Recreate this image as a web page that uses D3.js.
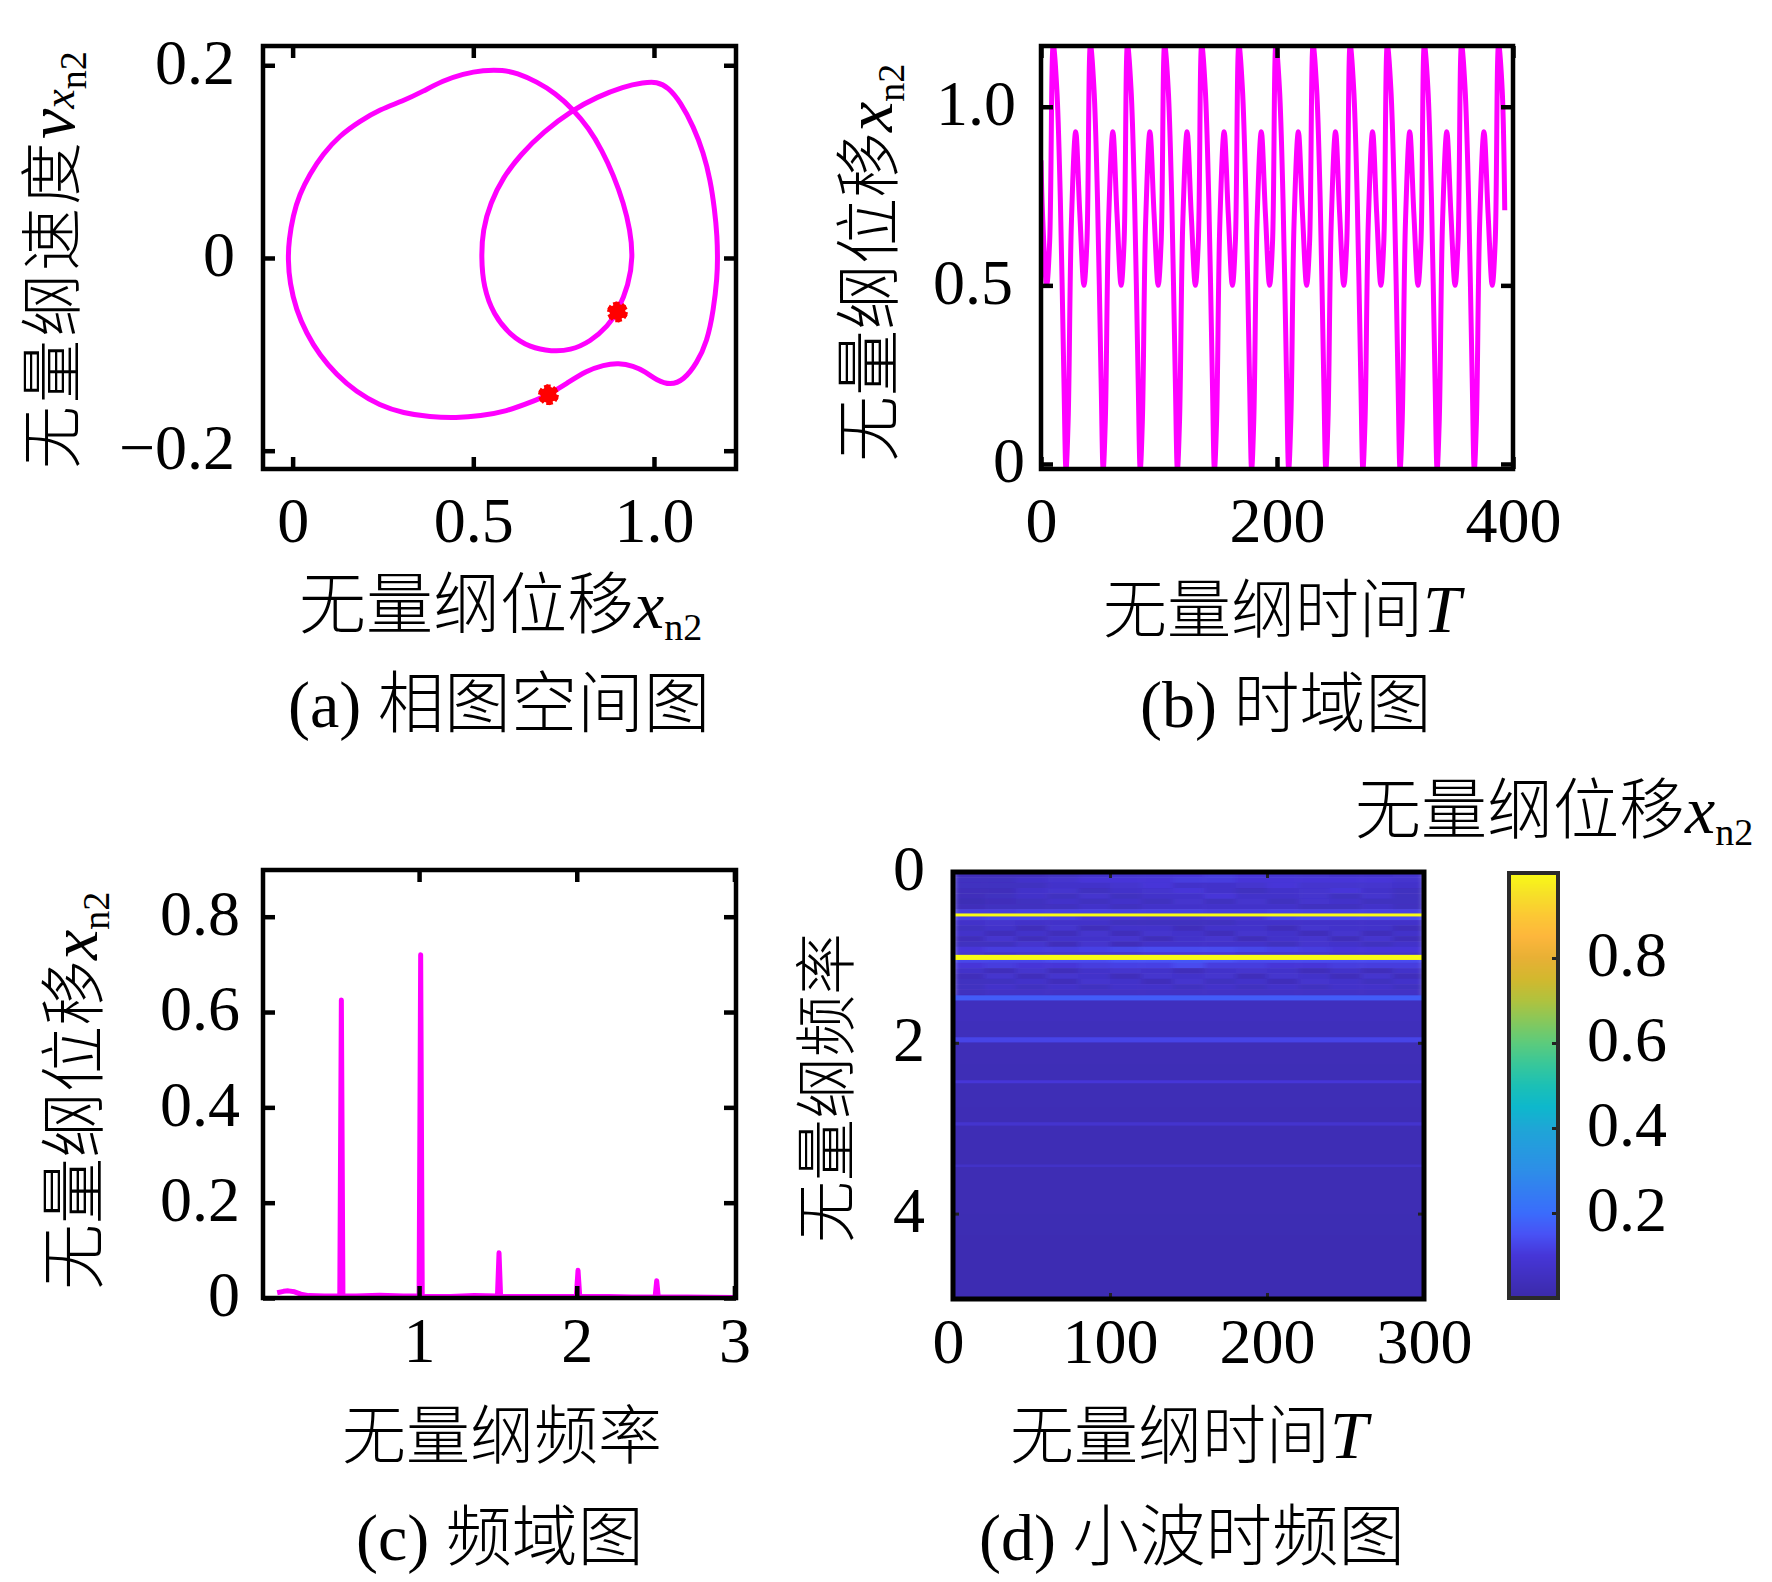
<!DOCTYPE html>
<html lang="en">
<head>
  <meta charset="UTF-8" />
  <title>Phase, time, frequency and wavelet charts</title>
  <script src="https://d3js.org/d3.v7.min.js"></script>
  <style>
    html, body { margin: 0; padding: 0; background: white; }
    svg { display: block; }
    text { fill: black; }
    .tick-label { font-family: "Liberation Serif", serif; font-size: 64px; }
    .label { font-family: "Noto Sans CJK SC", serif; font-size: 66px; font-weight: 300; }
    .latin { font-family: "Liberation Serif", serif; }
    .axis path { display: none; }
    .axis line { stroke: black; stroke-width: 4.5px; }
    .frame { fill: none; stroke: black; stroke-width: 4.5px; }
    .trace { fill: none; stroke: #ff00ff; stroke-linejoin: round; }
  </style>
</head>
<body>
  <svg id="chart" width="1772" height="1582"></svg>

  <script>
    // (a) phase portrait, closed loop
    const phaseX = [0.708, 0.657, 0.593, 0.519, 0.453, 0.380, 0.306, 0.241, 0.176, 0.121, 0.075, 0.038, 0.010, -0.008, -0.013, -0.010, 0.001, 0.019, 0.047, 0.084, 0.130, 0.186, 0.241, 0.306, 0.361, 0.416, 0.472, 0.527, 0.583, 0.620, 0.676, 0.727, 0.777, 0.819, 0.856, 0.888, 0.916, 0.934, 0.942, 0.930, 0.899, 0.874, 0.824, 0.768, 0.717, 0.657, 0.602, 0.556, 0.528, 0.522, 0.526, 0.547, 0.583, 0.630, 0.694, 0.777, 0.842, 0.916, 0.971, 1.008, 1.040, 1.073, 1.110, 1.137, 1.156, 1.168, 1.175, 1.176, 1.175, 1.165, 1.147, 1.119, 1.082, 1.045, 1.008, 0.976, 0.943, 0.902, 0.860, 0.814, 0.759];
    const phaseV = [-0.142, -0.150, -0.159, -0.164, -0.166, -0.165, -0.161, -0.153, -0.139, -0.121, -0.101, -0.078, -0.054, -0.026, -0.001, 0.019, 0.044, 0.066, 0.087, 0.108, 0.127, 0.142, 0.154, 0.163, 0.173, 0.184, 0.191, 0.195, 0.195, 0.192, 0.183, 0.171, 0.154, 0.135, 0.112, 0.086, 0.057, 0.029, 0.001, -0.028, -0.056, -0.070, -0.087, -0.096, -0.097, -0.093, -0.080, -0.059, -0.030, 0.001, 0.029, 0.057, 0.084, 0.107, 0.131, 0.154, 0.167, 0.178, 0.182, 0.183, 0.177, 0.162, 0.136, 0.109, 0.081, 0.050, 0.022, -0.002, -0.019, -0.054, -0.087, -0.109, -0.127, -0.132, -0.127, -0.118, -0.112, -0.109, -0.111, -0.117, -0.130];
    const poincareX = [0.708, 0.899];
    const poincareV = [-0.142, -0.056];

    // (b) time series
    const timeT = [
      0, 1.3, 4.8, 7.3,
      10.4, 13.4, 16.4, 19.4, 21.2, 23, 25.8, 29.4, 32.9, 36.4, 38.9,
      41.9, 44.9, 47.9, 50.9, 52.7, 54.5, 57.3, 60.9, 64.4, 67.9, 70.4,
      73.3, 76.3, 79.3, 82.3, 84.1, 85.9, 88.7, 92.3, 95.8, 99.3, 101.8,
      104.8, 107.8, 110.8, 113.8, 115.6, 117.4, 120.2, 123.8, 127.3, 130.8, 133.3,
      136.2, 139.2, 142.2, 145.2, 147, 148.8, 151.6, 155.2, 158.7, 162.2, 164.7,
      167.7, 170.7, 173.7, 176.7, 178.5, 180.3, 183.1, 186.7, 190.2, 193.7, 196.2,
      199.1, 202.1, 205.1, 208.1, 209.9, 211.7, 214.5, 218.1, 221.6, 225.1, 227.6,
      230.6, 233.6, 236.6, 239.6, 241.4, 243.2, 246, 249.6, 253.1, 256.6, 259.1,
      262, 265, 268, 271, 272.8, 274.6, 277.4, 281, 284.5, 288, 290.5,
      293.5, 296.5, 299.5, 302.5, 304.3, 306.1, 308.9, 312.5, 316, 319.5, 322,
      324.9, 327.9, 330.9, 333.9, 335.7, 337.5, 340.3, 343.9, 347.4, 350.9, 353.4,
      356.4, 359.4, 362.4, 365.4, 367.2, 369, 371.8, 375.4, 378.9, 382.4, 384.9,
      387.8, 390.8, 393
    ];
    const timeX = [
      0.85, 0.70, 0.50, 0.62,
      1.174, 1.05, 0.74, 0.24, -0.016, 0.12, 0.68, 0.93, 0.70, 0.50, 0.62,
      1.174, 1.05, 0.74, 0.24, -0.016, 0.12, 0.68, 0.93, 0.70, 0.50, 0.62,
      1.174, 1.05, 0.74, 0.24, -0.016, 0.12, 0.68, 0.93, 0.70, 0.50, 0.62,
      1.174, 1.05, 0.74, 0.24, -0.016, 0.12, 0.68, 0.93, 0.70, 0.50, 0.62,
      1.174, 1.05, 0.74, 0.24, -0.016, 0.12, 0.68, 0.93, 0.70, 0.50, 0.62,
      1.174, 1.05, 0.74, 0.24, -0.016, 0.12, 0.68, 0.93, 0.70, 0.50, 0.62,
      1.174, 1.05, 0.74, 0.24, -0.016, 0.12, 0.68, 0.93, 0.70, 0.50, 0.62,
      1.174, 1.05, 0.74, 0.24, -0.016, 0.12, 0.68, 0.93, 0.70, 0.50, 0.62,
      1.174, 1.05, 0.74, 0.24, -0.016, 0.12, 0.68, 0.93, 0.70, 0.50, 0.62,
      1.174, 1.05, 0.74, 0.24, -0.016, 0.12, 0.68, 0.93, 0.70, 0.50, 0.62,
      1.174, 1.05, 0.74, 0.24, -0.016, 0.12, 0.68, 0.93, 0.70, 0.50, 0.62,
      1.174, 1.05, 0.74, 0.24, -0.016, 0.12, 0.68, 0.93, 0.70, 0.50, 0.62,
      1.174, 1.05, 0.71
    ];

    // (c) spectrum
    const specF = [0.10, 0.14, 0.17, 0.21, 0.25, 0.30, 0.40, 0.49, 0.497, 0.507, 0.517, 0.60, 0.75, 0.90, 1.000, 1.010, 1.020, 1.20, 1.35, 1.497, 1.507, 1.517, 1.70, 1.85, 1.997, 2.008, 2.019, 2.20, 2.35, 2.497, 2.507, 2.517, 2.70, 3.0];
    const specA = [0.011, 0.014, 0.015, 0.013, 0.008, 0.005, 0.004, 0.004, 0.004, 0.625, 0.004, 0.004, 0.006, 0.004, 0.004, 0.72, 0.003, 0.003, 0.005, 0.004, 0.095, 0.003, 0.003, 0.003, 0.003, 0.058, 0.003, 0.003, 0.002, 0.002, 0.036, 0.002, 0.002, 0.001];

    // (d) wavelet map, percent of full scale. rows 0.0625 apart from 0 to 1.5, 15 columns of 20 T
    const heatRows = [
      [4, 4, 4, 5, 7, 8, 9, 10, 11, 10, 9, 8, 7, 7, 8],
      [5, 5, 7, 8, 10, 10, 10, 11, 11, 10, 10, 10, 10, 10, 8],
      [5, 5, 5, 7, 7, 8, 10, 7, 7, 8, 10, 8, 8, 8, 7],
      [4, 4, 7, 8, 5, 7, 8, 10, 7, 5, 7, 8, 10, 7, 5],
      [4, 5, 7, 5, 8, 5, 7, 7, 10, 7, 7, 8, 5, 8, 5],
      [3, 4, 5, 7, 5, 7, 5, 8, 5, 8, 5, 8, 7, 5, 5],
      [4, 5, 5, 5, 7, 5, 7, 7, 7, 7, 7, 5, 5, 7, 5],
      [11, 11, 12, 12, 12, 12, 12, 12, 11, 11, 12, 12, 12, 12, 12],
      [12, 13, 13, 12, 10, 10, 8, 8, 10, 10, 13, 14, 14, 14, 14],
      [7, 8, 7, 7, 7, 5, 5, 5, 5, 7, 7, 7, 7, 7, 7],
      [5, 7, 4, 8, 4, 7, 7, 4, 7, 7, 4, 8, 7, 7, 4],
      [7, 4, 7, 4, 8, 4, 8, 7, 4, 8, 7, 4, 8, 4, 7],
      [4, 8, 4, 7, 7, 8, 4, 7, 8, 4, 7, 8, 4, 8, 4],
      [5, 5, 8, 4, 8, 4, 7, 7, 7, 7, 5, 8, 7, 5, 7],
      [10, 11, 11, 11, 12, 13, 14, 14, 14, 13, 12, 11, 10, 10, 10],
      [8, 7, 8, 8, 8, 8, 10, 10, 10, 8, 8, 8, 7, 7, 7],
      [13, 13, 13, 14, 14, 15, 15, 16, 15, 14, 14, 14, 14, 14, 14],
      [10, 11, 10, 10, 11, 12, 12, 14, 11, 11, 10, 10, 11, 11, 11],
      [7, 4, 8, 4, 7, 8, 7, 4, 7, 8, 7, 4, 7, 4, 7],
      [4, 8, 4, 8, 7, 4, 8, 7, 8, 4, 8, 7, 4, 8, 4],
      [5, 5, 7, 4, 8, 7, 4, 8, 5, 7, 4, 8, 7, 5, 7],
      [5, 7, 5, 7, 5, 7, 7, 5, 7, 5, 7, 5, 7, 7, 5],
      [5, 6, 6, 6, 6, 6, 6, 6, 6, 6, 6, 6, 6, 6, 6],
      [4, 5, 6, 5, 6, 5, 6, 5, 6, 5, 6, 5, 6, 5, 5]
    ];
    const heatColumns = [0, 20, 40, 60, 80, 100, 120, 140, 160, 180, 200, 220, 240, 260, 280];
    const lowFreq = [1.5, 1.75, 2, 2.25, 2.5, 2.75, 3, 3.25, 3.5, 3.75, 4, 4.25, 4.5, 4.75];
    const lowLevel = [0.045, 0.04, 0.032, 0.03, 0.03, 0.028, 0.028, 0.026, 0.026, 0.024, 0.022, 0.02, 0.02, 0.02];
    const bandFreq = [0.503, 1.0, 1.474, 1.965, 2.456, 2.95, 3.44];
    const bandWidth = [0.035, 0.06, 0.06, 0.06, 0.035, 0.04, 0.03];
    const bandLevel = [1, 1, 0.17, 0.125, 0.10, 0.08, 0.065];

    const parulaStops = [0, 0.1, 0.15, 0.2, 0.3, 0.4, 0.45, 0.5, 0.55, 0.6, 0.65, 0.7, 0.75, 0.8, 0.85, 0.9, 0.95, 1];
    const parulaColors = ["#3b2aa8", "#4636d8", "#4852f5", "#3a6cfc", "#2d8ee8", "#1ea6d6", "#0db8cc", "#1cc0b5", "#38c79a", "#5ccb7c", "#85c85c", "#b0c23e", "#d2b82e", "#e8b035", "#fdb63c", "#fcc834", "#f6e028", "#f9fb15"];

    const colorbarTicks = [0.2, 0.4, 0.6, 0.8];

    const svg = d3.select("#chart");
    const parula = d3.scaleLinear().domain(parulaStops).range(parulaColors);

    function panelAxes(box, x, y, xTicks, yTicks, xFmt, yFmt, xPad, yPad, tickLen) {
      const g = svg.append("g");
      const len = -(tickLen || 12);
      const add = (axis, tx, ty) => g.append("g").attr("class", "axis")
        .attr("transform", `translate(${tx},${ty})`).call(axis);
      const bottom = add(d3.axisBottom(x).tickValues(xTicks).tickSize(len).tickPadding(xPad).tickFormat(xFmt), 0, box.bottom);
      const left = add(d3.axisLeft(y).tickValues(yTicks).tickSize(len).tickPadding(yPad).tickFormat(yFmt), box.left, 0);
      add(d3.axisTop(x).tickValues(xTicks).tickSize(len).tickFormat(""), 0, box.top);
      add(d3.axisRight(y).tickValues(yTicks).tickSize(len).tickFormat(""), box.right, 0);
      g.selectAll(".axis text").attr("class", "tick-label");
      bottom.selectAll("text").attr("dy", "0.71em");
      left.selectAll("text").attr("dy", "0.28em");
      g.append("rect").attr("class", "frame")
        .attr("x", box.left).attr("y", box.top)
        .attr("width", box.right - box.left).attr("height", box.bottom - box.top);
      return { g, bottom, left };
    }

    // mixed CJK / latin label, parts are [text, kind]
    function label(x, y, parts, rotate, size) {
      const t = svg.append("text").attr("class", "label")
        .attr("transform", `translate(${x},${y})` + (rotate ? " rotate(-90)" : ""));
      if (size) t.style("font-size", size + "px");
      parts.forEach(([s, kind]) => {
        const span = t.append("tspan").text(s);
        if (kind === "i") span.attr("class", "latin").style("font-style", "italic").style("font-size", "68px");
        if (kind === "r") span.attr("class", "latin").style("font-size", "66px");
        if (kind === "subi") span.attr("class", "latin").style("font-style", "italic").style("font-size", "44px");
        if (kind === "sub") span.attr("class", "latin").attr("dy", 12).style("font-size", "38px");
      });
      return t;
    }
    const xn2 = [["x", "i"], ["n2", "sub"]];

    function clipFor(id, box) {
      svg.append("clipPath").attr("id", id).append("rect")
        .attr("x", box.left).attr("y", box.top)
        .attr("width", box.right - box.left).attr("height", box.bottom - box.top);
    }

    // ---------- (a)
    const boxA = { left: 263, right: 736, top: 46, bottom: 469 };
    const xA = d3.scaleLinear().domain([-0.082, 1.227]).range([boxA.left, boxA.right]);
    const yA = d3.scaleLinear().domain([-0.219, 0.22]).range([boxA.bottom, boxA.top]);
    const loop = d3.line().x(i => xA(phaseX[i])).y(i => yA(phaseV[i])).curve(d3.curveBasisClosed);
    svg.append("path").attr("class", "trace").attr("stroke-width", 5)
      .attr("d", loop(d3.range(phaseX.length)));
    const star = d3.symbol().type(d3.symbolAsterisk).size(300)();
    poincareX.forEach((px, i) => {
      [0, 45].forEach(a => {
        svg.append("path").attr("d", star)
          .attr("transform", `translate(${xA(px)},${yA(poincareV[i])}) rotate(${a})`)
          .attr("fill", "none").attr("stroke", "#ff0000").attr("stroke-width", 4.5);
      });
      svg.append("circle").attr("cx", xA(px)).attr("cy", yA(poincareV[i])).attr("r", 8).attr("fill", "#ff0000");
    });
    panelAxes(boxA, xA, yA, [0, 0.5, 1], [-0.2, 0, 0.2],
      d => d === 0 ? "0" : d3.format(".1f")(d),
      d => d === 0 ? "0" : d3.format(".1f")(d).replace("-", "\u2212"), 28, 28);
    label(74, 469, [["无量纲速度", ""], ["v", "i"], ["x", "subi"], ["n2", "sub"]], true, 63)
      .selectAll("tspan").filter((d, i) => i === 0).style("letter-spacing", "3px");
    label(299, 628, [["无量纲位移", ""], ...xn2], false, 67);
    label(288, 727, [["(a) ", "r"], ["相图空间图", ""]], false, 66.5);

    // ---------- (b)
    const boxB = { left: 1041, right: 1513, top: 46, bottom: 469 };
    const xB = d3.scaleLinear().domain([0, 400]).range([boxB.left, boxB.right]);
    const yB = d3.scaleLinear().domain([-0.014, 1.17]).range([boxB.bottom, boxB.top]);
    clipFor("clipB", boxB);
    const timeLine = d3.line().x(i => xB(timeT[i])).y(i => yB(timeX[i])).curve(d3.curveCatmullRom.alpha(0.5));
    svg.append("path").attr("class", "trace").attr("stroke-width", 5).attr("clip-path", "url(#clipB)")
      .attr("d", timeLine(d3.range(timeT.length)));
    const axesB = panelAxes(boxB, xB, yB, [0, 200, 400], [0, 0.5, 1],
      d => String(d),
      d => d === 0 ? "0" : d3.format(".1f")(d), 28, 26);
    axesB.left.selectAll("text").attr("x", d => d === 0 ? -16 : d === 0.5 ? -28 : -25);
    label(892, 462, [["无量纲位移", ""], ...xn2], true);
    label(1103, 632, [["无量纲时间", ""], ["T", "i"]], false, 64);
    label(1140, 727, [["(b) ", "r"], ["时域图", ""]], false, 66);

    // ---------- (c)
    const boxC = { left: 263, right: 736, top: 870, bottom: 1298 };
    const xC = d3.scaleLinear().domain([0.01, 3.01]).range([boxC.left, boxC.right]);
    const yC = d3.scaleLinear().domain([0, 0.898]).range([boxC.bottom, boxC.top]);
    const specLine = d3.line().x(i => xC(specF[i])).y(i => yC(specA[i]));
    svg.append("path").attr("class", "trace").attr("stroke-width", 5)
      .attr("d", specLine(d3.range(specF.length)));
    panelAxes(boxC, xC, yC, [1, 2, 3], [0, 0.2, 0.4, 0.6, 0.8],
      d => String(d),
      d => d === 0 ? "0" : d3.format(".1f")(d), 19, 23);
    label(97, 1290, [["无量纲位移", ""], ...xn2], true);
    label(342, 1458, [["无量纲频率", ""]], false, 64);
    label(356, 1560, [["(c) ", "r"], ["频域图", ""]], false, 66);

    // ---------- (d)
    const boxD = { left: 953, right: 1424, top: 872, bottom: 1299 };
    const xD = d3.scaleLinear().domain([0, 300]).range([boxD.left, boxD.right]);
    const yD = d3.scaleLinear().domain([0, 5]).range([boxD.top, boxD.bottom]);
    clipFor("clipD", boxD);
    svg.append("filter").attr("id", "soften").attr("x", "-5%").attr("width", "110%")
      .append("feGaussianBlur").attr("stdDeviation", "3 0.7");
    const heat = svg.append("g").attr("clip-path", "url(#clipD)");
    const heatTop = heat.append("g").attr("filter", "url(#soften)");
    heatRows.forEach((row, r) => {
      heatTop.selectAll(null).data(row).join("rect")
        .attr("x", (d, c) => xD(heatColumns[c]))
        .attr("y", yD(r * 0.0625))
        .attr("width", xD(20) - xD(0) + 0.5)
        .attr("height", yD(0.0625) - yD(0) + 0.5)
        .attr("fill", d => parula(d / 100));
    });
    lowFreq.forEach((f, i) => {
      heat.append("rect").attr("x", boxD.left).attr("width", boxD.right - boxD.left)
        .attr("y", yD(f)).attr("height", yD(i + 1 < lowFreq.length ? lowFreq[i + 1] : 5) - yD(f) + 0.5)
        .attr("shape-rendering", "crispEdges")
        .attr("fill", parula(lowLevel[i]));
    });
    bandFreq.forEach((f, i) => {
      heat.append("rect").attr("x", boxD.left).attr("width", boxD.right - boxD.left)
        .attr("y", yD(f - bandWidth[i] / 2)).attr("height", yD(bandWidth[i]) - yD(0))
        .attr("fill", parula(bandLevel[i]));
    });
    const axesD = panelAxes(boxD, xD, yD, [0, 100, 200, 300], [0, 2, 4],
      d => String(d), d => String(d), 19, 28, 6);
    axesD.g.selectAll(".axis line").style("stroke", "#222").style("stroke-width", 3);
    axesD.g.select(".frame").style("stroke-width", 5);
    axesD.bottom.selectAll("text").filter(d => d === 0).attr("x", -5);
    label(849, 1243, [["无量纲频率", ""]], true, 62);
    label(1010, 1458, [["无量纲时间", ""], ["T", "i"]], false, 64);
    label(979, 1560, [["(d) ", "r"], ["小波时频图", ""]], false, 66.5);

    // colorbar
    const barBox = { left: 1509, right: 1558, top: 873, bottom: 1298 };
    const yBar = d3.scaleLinear().domain([0, 1]).range([barBox.bottom, barBox.top]);
    svg.append("g").selectAll("rect").data(d3.range(barBox.top, barBox.bottom))
      .join("rect")
      .attr("x", barBox.left).attr("width", barBox.right - barBox.left)
      .attr("y", d => d).attr("height", 1.5)
      .attr("fill", d => parula(yBar.invert(d + 0.5)));
    const barAxis = svg.append("g").attr("class", "axis")
      .attr("transform", `translate(${barBox.right},0)`)
      .call(d3.axisRight(yBar).tickValues(colorbarTicks).tickSize(-6).tickPadding(29).tickFormat(d3.format(".1f")));
    barAxis.selectAll("text").attr("class", "tick-label").attr("dy", "0.28em");
    barAxis.selectAll("line").style("stroke", "#222").style("stroke-width", 3);
    svg.append("rect").attr("class", "frame")
      .attr("x", barBox.left).attr("y", barBox.top)
      .attr("width", barBox.right - barBox.left).attr("height", barBox.bottom - barBox.top)
      .style("stroke", "#2a2a2a").style("stroke-width", 4);
    label(1355, 833, [["无量纲位移", ""], ...xn2]);
  </script>
</body>
</html>
